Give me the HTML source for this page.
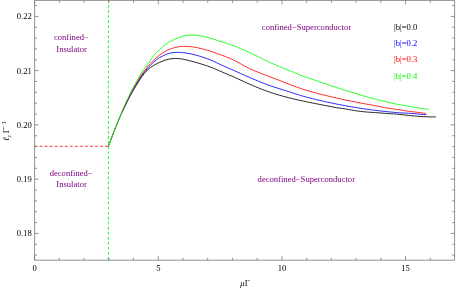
<!DOCTYPE html>
<html><head><meta charset="utf-8"><title>plot</title>
<style>html,body{margin:0;padding:0;background:#fff;}svg{display:block;will-change:transform;}</style>
</head><body>
<svg width="456" height="288" viewBox="0 0 456 288">
<rect width="456" height="288" fill="#fff"/>
<line x1="108.4" y1="0" x2="108.4" y2="260.20" stroke="#00ff00" stroke-width="0.9" stroke-dasharray="2.85 2.19"/>
<line x1="34.5" y1="146.3" x2="108.4" y2="146.3" stroke="#ff0000" stroke-width="0.8" stroke-dasharray="2.85 2.2"/>
<path d="M108.50 146.30 C108.75 145.60 109.50 143.50 110.00 142.12 C110.50 140.75 111.00 139.39 111.50 138.05 C112.00 136.71 112.50 135.38 113.00 134.08 C113.50 132.77 114.00 131.48 114.50 130.21 C115.00 128.94 115.50 127.69 116.00 126.45 C116.50 125.21 117.00 123.99 117.50 122.79 C118.00 121.58 118.50 120.40 119.00 119.23 C119.50 118.06 120.00 116.91 120.50 115.77 C121.00 114.63 121.75 112.97 122.00 112.41" fill="none" stroke="#000000" stroke-width="0.45" stroke-linejoin="round"/>
<path d="M122.00 112.41 C122.25 111.87 123.00 110.22 123.50 109.15 C124.00 108.08 124.50 107.03 125.00 105.99 C125.50 104.96 126.00 103.94 126.50 102.93 C127.00 101.93 127.50 100.94 128.00 99.97 C128.50 99.00 129.00 98.04 129.50 97.10 C130.00 96.17 130.50 95.24 131.00 94.34 C131.50 93.43 132.00 92.54 132.50 91.66 C133.00 90.78 133.50 89.92 134.00 89.07 C134.50 88.23 135.00 87.39 135.50 86.57 C136.00 85.75 136.50 84.94 137.00 84.14 C137.50 83.34 138.00 82.55 138.50 81.77 C139.00 80.99 139.50 80.21 140.00 79.46 C140.50 78.70 141.00 77.94 141.50 77.21 C142.00 76.48 142.50 75.77 143.00 75.09 C143.50 74.42 144.00 73.78 144.50 73.17 C145.00 72.56 145.50 71.97 146.00 71.44 C146.50 70.91 147.00 70.44 147.50 69.98 C148.00 69.52 148.50 69.09 149.00 68.68 C149.50 68.27 150.00 67.88 150.50 67.51 C151.00 67.15 151.50 66.80 152.00 66.48 C152.50 66.15 153.00 65.84 153.50 65.54 C154.00 65.24 154.50 64.98 155.00 64.69 C155.50 64.41 156.00 64.12 156.50 63.85 C157.00 63.58 157.50 63.32 158.00 63.07 C158.50 62.83 159.00 62.59 159.50 62.36 C160.00 62.14 160.50 61.92 161.00 61.72 C161.50 61.52 162.00 61.34 162.50 61.15 C163.00 60.96 163.50 60.75 164.00 60.58 C164.50 60.40 165.00 60.23 165.50 60.08 C166.00 59.92 166.50 59.78 167.00 59.65 C167.50 59.52 168.00 59.40 168.50 59.29 C169.00 59.18 169.50 59.07 170.00 58.98 C170.50 58.88 171.00 58.80 171.50 58.73 C172.00 58.66 172.50 58.61 173.00 58.56 C173.50 58.52 174.00 58.49 174.50 58.47 C175.00 58.45 175.50 58.45 176.00 58.45 C176.50 58.46 177.00 58.48 177.50 58.51 C178.00 58.54 178.50 58.58 179.00 58.62 C179.50 58.67 180.00 58.73 180.50 58.79 C181.00 58.85 181.50 58.91 182.00 59.00 C182.50 59.09 183.00 59.20 183.50 59.31 C184.00 59.41 184.50 59.52 185.00 59.64 C185.50 59.75 186.00 59.87 186.50 59.99 C187.00 60.11 187.50 60.23 188.00 60.35 C188.50 60.47 189.00 60.59 189.50 60.72 C190.00 60.84 190.50 60.97 191.00 61.10 C191.50 61.22 192.00 61.35 192.50 61.49 C193.00 61.62 193.50 61.75 194.00 61.89 C194.50 62.02 195.00 62.16 195.50 62.30 C196.00 62.44 196.50 62.58 197.00 62.72 C197.50 62.87 198.00 63.01 198.50 63.16 C199.00 63.31 199.50 63.46 200.00 63.61 C200.50 63.76 201.00 63.91 201.50 64.07 C202.00 64.22 202.50 64.38 203.00 64.54 C203.50 64.70 204.00 64.86 204.50 65.02 C205.00 65.19 205.50 65.35 206.00 65.52 C206.50 65.69 207.00 65.86 207.50 66.04 C208.00 66.21 208.50 66.38 209.00 66.56 C209.50 66.74 210.00 66.92 210.50 67.10 C211.00 67.28 211.50 67.46 212.00 67.65 C212.50 67.85 213.00 68.06 213.50 68.27 C214.00 68.47 214.50 68.68 215.00 68.90 C215.50 69.11 216.00 69.32 216.50 69.54 C217.00 69.75 217.50 69.97 218.00 70.19 C218.50 70.41 219.00 70.63 219.50 70.85 C220.00 71.08 220.50 71.31 221.00 71.53 C221.50 71.75 222.00 71.98 222.50 72.19 C223.00 72.40 223.50 72.60 224.00 72.80 C224.50 73.01 225.00 73.22 225.50 73.43 C226.00 73.64 226.50 73.85 227.00 74.06 C227.50 74.27 228.00 74.48 228.50 74.69 C229.00 74.91 229.50 75.12 230.00 75.33 C230.50 75.55 231.00 75.76 231.50 75.98 C232.00 76.20 232.50 76.41 233.00 76.63 C233.50 76.85 234.00 77.06 234.50 77.28 C235.00 77.51 235.50 77.73 236.00 77.96 C236.50 78.19 237.00 78.42 237.50 78.65 C238.00 78.88 238.50 79.11 239.00 79.34 C239.50 79.57 240.00 79.80 240.50 80.03 C241.00 80.26 241.50 80.49 242.00 80.72 C242.50 80.95 243.00 81.18 243.50 81.41 C244.00 81.64 244.50 81.86 245.00 82.09 C245.50 82.32 246.00 82.55 246.50 82.77 C247.00 83.00 247.50 83.22 248.00 83.44 C248.50 83.67 249.00 83.89 249.50 84.11 C250.00 84.33 250.50 84.56 251.00 84.77 C251.50 84.99 252.00 85.21 252.50 85.43 C253.00 85.65 253.50 85.86 254.00 86.07 C254.50 86.29 255.00 86.50 255.50 86.71 C256.00 86.92 256.50 87.13 257.00 87.34 C257.50 87.54 258.00 87.75 258.50 87.95 C259.00 88.16 259.50 88.36 260.00 88.56 C260.50 88.75 261.00 88.95 261.50 89.15 C262.00 89.34 262.50 89.53 263.00 89.72 C263.50 89.91 264.00 90.10 264.50 90.29 C265.00 90.47 265.50 90.65 266.00 90.84 C266.50 91.02 267.00 91.19 267.50 91.37 C268.00 91.55 268.50 91.72 269.00 91.89 C269.50 92.07 270.00 92.24 270.50 92.40 C271.00 92.57 271.50 92.74 272.00 92.90 C272.50 93.07 273.00 93.23 273.50 93.39 C274.00 93.55 274.50 93.71 275.00 93.86 C275.50 94.02 276.00 94.17 276.50 94.33 C277.00 94.48 277.50 94.63 278.00 94.78 C278.50 94.93 279.00 95.07 279.50 95.22 C280.00 95.37 280.50 95.51 281.00 95.65 C281.50 95.79 282.00 95.93 282.50 96.07 C283.00 96.21 283.50 96.35 284.00 96.49 C284.50 96.62 285.00 96.76 285.50 96.89 C286.00 97.02 286.50 97.15 287.00 97.28 C287.50 97.41 288.00 97.54 288.50 97.67 C289.00 97.80 289.50 97.92 290.00 98.05 C290.50 98.17 291.00 98.30 291.50 98.42 C292.00 98.54 292.50 98.66 293.00 98.78 C293.50 98.90 294.00 99.02 294.50 99.14 C295.00 99.26 295.50 99.37 296.00 99.49 C296.50 99.60 297.00 99.72 297.50 99.83 C298.00 99.95 298.50 100.06 299.00 100.17 C299.50 100.28 300.00 100.39 300.50 100.50 C301.00 100.61 301.50 100.72 302.00 100.83 C302.50 100.94 303.00 101.04 303.50 101.15 C304.00 101.26 304.50 101.36 305.00 101.47 C305.50 101.57 306.00 101.68 306.50 101.78 C307.00 101.89 307.50 101.99 308.00 102.09 C308.50 102.20 309.00 102.30 309.50 102.40 C310.00 102.50 310.50 102.60 311.00 102.70 C311.50 102.80 312.00 102.91 312.50 103.01 C313.00 103.11 313.50 103.20 314.00 103.30 C314.50 103.40 315.00 103.50 315.50 103.60 C316.00 103.70 316.50 103.80 317.00 103.90 C317.50 103.99 318.00 104.09 318.50 104.19 C319.00 104.29 319.50 104.39 320.00 104.48 C320.50 104.58 321.00 104.68 321.50 104.78 C322.00 104.87 322.50 104.97 323.00 105.07 C323.50 105.17 324.00 105.27 324.50 105.36 C325.00 105.46 325.50 105.56 326.00 105.66 C326.50 105.75 327.00 105.85 327.50 105.95 C328.00 106.05 328.50 106.15 329.00 106.24 C329.50 106.34 330.00 106.44 330.50 106.54 C331.00 106.63 331.50 106.73 332.00 106.83 C332.50 106.93 333.00 107.02 333.50 107.12 C334.00 107.21 334.50 107.31 335.00 107.41 C335.50 107.50 336.00 107.61 336.50 107.69 C337.00 107.77 337.50 107.84 338.00 107.91 C338.50 107.98 339.00 108.04 339.50 108.10 C340.00 108.17 340.50 108.23 341.00 108.29 C341.50 108.35 342.00 108.41 342.50 108.47 C343.00 108.53 343.50 108.57 344.00 108.65 C344.50 108.73 345.00 108.84 345.50 108.94 C346.00 109.04 346.50 109.13 347.00 109.23 C347.50 109.32 348.00 109.41 348.50 109.50 C349.00 109.60 349.50 109.69 350.00 109.77 C350.50 109.86 351.00 109.95 351.50 110.04 C352.00 110.12 352.50 110.21 353.00 110.29 C353.50 110.37 354.00 110.45 354.50 110.53 C355.00 110.61 355.50 110.69 356.00 110.76 C356.50 110.84 357.00 110.91 357.50 110.99 C358.00 111.06 358.50 111.13 359.00 111.20 C359.50 111.26 360.00 111.33 360.50 111.39 C361.00 111.45 361.50 111.50 362.00 111.56 C362.50 111.61 363.00 111.66 363.50 111.71 C364.00 111.76 364.50 111.81 365.00 111.85 C365.50 111.90 366.00 111.94 366.50 111.98 C367.00 112.02 367.50 112.06 368.00 112.10 C368.50 112.14 369.00 112.18 369.50 112.22 C370.00 112.26 370.50 112.29 371.00 112.33 C371.50 112.36 372.00 112.40 372.50 112.43 C373.00 112.47 373.50 112.50 374.00 112.53 C374.50 112.57 375.00 112.60 375.50 112.63 C376.00 112.67 376.50 112.70 377.00 112.73 C377.50 112.77 378.00 112.80 378.50 112.84 C379.00 112.87 379.50 112.91 380.00 112.94 C380.50 112.98 381.00 113.01 381.50 113.05 C382.00 113.09 382.50 113.13 383.00 113.17 C383.50 113.21 384.00 113.25 384.50 113.29 C385.00 113.34 385.50 113.39 386.00 113.43 C386.50 113.46 387.00 113.48 387.50 113.51 C388.00 113.53 388.50 113.56 389.00 113.59 C389.50 113.62 390.00 113.65 390.50 113.68 C391.00 113.72 391.50 113.75 392.00 113.78 C392.50 113.82 393.00 113.85 393.50 113.89 C394.00 113.92 394.50 113.95 395.00 113.99 C395.50 114.03 396.00 114.07 396.50 114.12 C397.00 114.17 397.50 114.23 398.00 114.28 C398.50 114.33 399.00 114.39 399.50 114.44 C400.00 114.49 400.50 114.55 401.00 114.60 C401.50 114.65 402.00 114.71 402.50 114.76 C403.00 114.82 403.50 114.87 404.00 114.92 C404.50 114.98 405.00 115.03 405.50 115.09 C406.00 115.14 406.50 115.19 407.00 115.24 C407.50 115.30 408.00 115.35 408.50 115.40 C409.00 115.45 409.50 115.50 410.00 115.55 C410.50 115.60 411.00 115.65 411.50 115.70 C412.00 115.75 412.50 115.80 413.00 115.85 C413.50 115.89 414.00 115.94 414.50 115.98 C415.00 116.03 415.50 116.07 416.00 116.12 C416.50 116.16 417.00 116.20 417.50 116.24 C418.00 116.28 418.50 116.32 419.00 116.36 C419.50 116.40 420.00 116.43 420.50 116.47 C421.00 116.50 421.50 116.53 422.00 116.56 C422.50 116.60 423.00 116.63 423.50 116.65 C424.00 116.68 424.50 116.71 425.00 116.73 C425.50 116.76 426.00 116.78 426.50 116.80 C427.00 116.82 427.50 116.84 428.00 116.85 C428.50 116.87 429.00 116.88 429.50 116.89 C430.00 116.90 430.50 116.91 431.00 116.92 C431.50 116.92 432.00 116.93 432.50 116.93 C433.00 116.93 433.50 116.93 434.00 116.93 C434.50 116.92 435.18 116.91 435.50 116.91 C435.82 116.90 435.83 116.90 435.90 116.90" fill="none" stroke="#000000" stroke-width="0.85" stroke-linejoin="round"/>
<path d="M108.50 146.30 C108.75 145.61 109.50 143.53 110.00 142.17 C110.50 140.80 111.00 139.45 111.50 138.12 C112.00 136.79 112.50 135.47 113.00 134.16 C113.50 132.86 114.00 131.57 114.50 130.29 C115.00 129.02 115.50 127.76 116.00 126.51 C116.50 125.27 117.00 124.04 117.50 122.82 C118.00 121.61 118.50 120.41 119.00 119.22 C119.50 118.03 120.00 116.86 120.50 115.71 C121.00 114.55 121.75 112.85 122.00 112.28" fill="none" stroke="#0000ff" stroke-width="0.45" stroke-linejoin="round"/>
<path d="M122.00 112.28 C122.25 111.73 123.00 110.05 123.50 108.95 C124.00 107.85 124.50 106.77 125.00 105.71 C125.50 104.64 126.00 103.59 126.50 102.55 C127.00 101.52 127.50 100.49 128.00 99.49 C128.50 98.48 129.00 97.49 129.50 96.52 C130.00 95.54 130.50 94.58 131.00 93.63 C131.50 92.69 132.00 91.76 132.50 90.84 C133.00 89.93 133.50 89.03 134.00 88.14 C134.50 87.26 135.00 86.39 135.50 85.53 C136.00 84.68 136.50 83.84 137.00 83.02 C137.50 82.20 138.00 81.39 138.50 80.61 C139.00 79.82 139.50 79.04 140.00 78.28 C140.50 77.53 141.00 76.79 141.50 76.06 C142.00 75.34 142.50 74.63 143.00 73.94 C143.50 73.25 144.00 72.58 144.50 71.94 C145.00 71.30 145.50 70.69 146.00 70.09 C146.50 69.49 147.00 68.91 147.50 68.35 C148.00 67.78 148.50 67.23 149.00 66.70 C149.50 66.17 150.00 65.66 150.50 65.17 C151.00 64.67 151.50 64.21 152.00 63.73 C152.50 63.26 153.00 62.76 153.50 62.30 C154.00 61.84 154.50 61.39 155.00 60.97 C155.50 60.54 156.00 60.14 156.50 59.76 C157.00 59.38 157.50 59.02 158.00 58.68 C158.50 58.34 159.00 58.02 159.50 57.71 C160.00 57.40 160.50 57.11 161.00 56.84 C161.50 56.56 162.00 56.32 162.50 56.06 C163.00 55.80 163.50 55.53 164.00 55.29 C164.50 55.05 165.00 54.82 165.50 54.61 C166.00 54.40 166.50 54.19 167.00 54.01 C167.50 53.83 168.00 53.66 168.50 53.52 C169.00 53.38 169.50 53.27 170.00 53.16 C170.50 53.05 171.00 52.96 171.50 52.87 C172.00 52.79 172.50 52.71 173.00 52.65 C173.50 52.59 174.00 52.54 174.50 52.50 C175.00 52.45 175.50 52.42 176.00 52.40 C176.50 52.38 177.00 52.37 177.50 52.36 C178.00 52.36 178.50 52.36 179.00 52.38 C179.50 52.39 180.00 52.41 180.50 52.44 C181.00 52.47 181.50 52.50 182.00 52.55 C182.50 52.59 183.00 52.64 183.50 52.69 C184.00 52.75 184.50 52.81 185.00 52.88 C185.50 52.95 186.00 53.02 186.50 53.10 C187.00 53.18 187.50 53.26 188.00 53.35 C188.50 53.43 189.00 53.53 189.50 53.62 C190.00 53.72 190.50 53.82 191.00 53.93 C191.50 54.03 192.00 54.15 192.50 54.26 C193.00 54.38 193.50 54.49 194.00 54.62 C194.50 54.74 195.00 54.87 195.50 55.00 C196.00 55.13 196.50 55.27 197.00 55.41 C197.50 55.54 198.00 55.69 198.50 55.83 C199.00 55.98 199.50 56.13 200.00 56.28 C200.50 56.44 201.00 56.60 201.50 56.76 C202.00 56.92 202.50 57.08 203.00 57.25 C203.50 57.41 204.00 57.58 204.50 57.76 C205.00 57.93 205.50 58.10 206.00 58.28 C206.50 58.46 207.00 58.64 207.50 58.83 C208.00 59.01 208.50 59.20 209.00 59.39 C209.50 59.57 210.00 59.77 210.50 59.96 C211.00 60.15 211.50 60.33 212.00 60.55 C212.50 60.76 213.00 61.01 213.50 61.24 C214.00 61.47 214.50 61.70 215.00 61.94 C215.50 62.18 216.00 62.41 216.50 62.65 C217.00 62.89 217.50 63.13 218.00 63.38 C218.50 63.62 219.00 63.87 219.50 64.11 C220.00 64.36 220.50 64.61 221.00 64.85 C221.50 65.10 222.00 65.34 222.50 65.56 C223.00 65.79 223.50 65.98 224.00 66.20 C224.50 66.41 225.00 66.62 225.50 66.84 C226.00 67.05 226.50 67.26 227.00 67.48 C227.50 67.70 228.00 67.91 228.50 68.13 C229.00 68.35 229.50 68.57 230.00 68.79 C230.50 69.00 231.00 69.22 231.50 69.44 C232.00 69.66 232.50 69.88 233.00 70.10 C233.50 70.33 234.00 70.55 234.50 70.77 C235.00 70.99 235.50 71.21 236.00 71.43 C236.50 71.66 237.00 71.88 237.50 72.10 C238.00 72.33 238.50 72.55 239.00 72.77 C239.50 72.99 240.00 73.22 240.50 73.44 C241.00 73.66 241.50 73.88 242.00 74.10 C242.50 74.33 243.00 74.55 243.50 74.77 C244.00 74.99 244.50 75.21 245.00 75.43 C245.50 75.64 246.00 75.86 246.50 76.08 C247.00 76.30 247.50 76.51 248.00 76.73 C248.50 76.94 249.00 77.16 249.50 77.37 C250.00 77.59 250.50 77.81 251.00 78.03 C251.50 78.25 252.00 78.47 252.50 78.69 C253.00 78.91 253.50 79.13 254.00 79.34 C254.50 79.56 255.00 79.77 255.50 79.98 C256.00 80.20 256.50 80.41 257.00 80.62 C257.50 80.83 258.00 81.03 258.50 81.24 C259.00 81.45 259.50 81.65 260.00 81.85 C260.50 82.05 261.00 82.25 261.50 82.45 C262.00 82.65 262.50 82.84 263.00 83.04 C263.50 83.23 264.00 83.42 264.50 83.61 C265.00 83.80 265.50 83.99 266.00 84.17 C266.50 84.36 267.00 84.54 267.50 84.72 C268.00 84.90 268.50 85.08 269.00 85.26 C269.50 85.43 270.00 85.61 270.50 85.78 C271.00 85.96 271.50 86.13 272.00 86.30 C272.50 86.47 273.00 86.64 273.50 86.80 C274.00 86.97 274.50 87.14 275.00 87.30 C275.50 87.46 276.00 87.63 276.50 87.79 C277.00 87.95 277.50 88.11 278.00 88.27 C278.50 88.42 279.00 88.58 279.50 88.74 C280.00 88.89 280.50 89.05 281.00 89.20 C281.50 89.35 282.00 89.51 282.50 89.66 C283.00 89.81 283.50 89.96 284.00 90.11 C284.50 90.26 285.00 90.41 285.50 90.57 C286.00 90.74 286.50 90.91 287.00 91.08 C287.50 91.24 288.00 91.41 288.50 91.57 C289.00 91.74 289.50 91.90 290.00 92.06 C290.50 92.23 291.00 92.39 291.50 92.55 C292.00 92.72 292.50 92.88 293.00 93.04 C293.50 93.20 294.00 93.36 294.50 93.52 C295.00 93.68 295.50 93.84 296.00 94.00 C296.50 94.16 297.00 94.32 297.50 94.48 C298.00 94.64 298.50 94.80 299.00 94.96 C299.50 95.12 300.00 95.28 300.50 95.44 C301.00 95.60 301.50 95.77 302.00 95.92 C302.50 96.06 303.00 96.18 303.50 96.31 C304.00 96.45 304.50 96.58 305.00 96.71 C305.50 96.84 306.00 96.97 306.50 97.10 C307.00 97.24 307.50 97.37 308.00 97.50 C308.50 97.63 309.00 97.76 309.50 97.89 C310.00 98.02 310.50 98.15 311.00 98.28 C311.50 98.41 312.00 98.53 312.50 98.66 C313.00 98.79 313.50 98.92 314.00 99.04 C314.50 99.17 315.00 99.29 315.50 99.41 C316.00 99.53 316.50 99.65 317.00 99.77 C317.50 99.89 318.00 100.01 318.50 100.13 C319.00 100.24 319.50 100.36 320.00 100.48 C320.50 100.59 321.00 100.71 321.50 100.82 C322.00 100.94 322.50 101.05 323.00 101.17 C323.50 101.28 324.00 101.39 324.50 101.50 C325.00 101.61 325.50 101.72 326.00 101.83 C326.50 101.94 327.00 102.05 327.50 102.16 C328.00 102.26 328.50 102.37 329.00 102.47 C329.50 102.58 330.00 102.68 330.50 102.79 C331.00 102.89 331.50 103.00 332.00 103.10 C332.50 103.21 333.00 103.31 333.50 103.42 C334.00 103.52 334.50 103.62 335.00 103.72 C335.50 103.82 336.00 103.92 336.50 104.02 C337.00 104.12 337.50 104.22 338.00 104.31 C338.50 104.41 339.00 104.51 339.50 104.60 C340.00 104.70 340.50 104.79 341.00 104.88 C341.50 104.98 342.00 105.07 342.50 105.16 C343.00 105.25 343.50 105.34 344.00 105.43 C344.50 105.52 345.00 105.62 345.50 105.72 C346.00 105.81 346.50 105.90 347.00 106.00 C347.50 106.09 348.00 106.18 348.50 106.27 C349.00 106.36 349.50 106.45 350.00 106.54 C350.50 106.63 351.00 106.72 351.50 106.81 C352.00 106.90 352.50 106.98 353.00 107.07 C353.50 107.15 354.00 107.24 354.50 107.32 C355.00 107.41 355.50 107.49 356.00 107.57 C356.50 107.65 357.00 107.74 357.50 107.82 C358.00 107.90 358.50 107.98 359.00 108.06 C359.50 108.14 360.00 108.21 360.50 108.29 C361.00 108.37 361.50 108.44 362.00 108.52 C362.50 108.60 363.00 108.67 363.50 108.74 C364.00 108.82 364.50 108.89 365.00 108.96 C365.50 109.04 366.00 109.11 366.50 109.18 C367.00 109.25 367.50 109.32 368.00 109.39 C368.50 109.46 369.00 109.53 369.50 109.60 C370.00 109.66 370.50 109.73 371.00 109.80 C371.50 109.86 372.00 109.93 372.50 109.99 C373.00 110.06 373.50 110.12 374.00 110.19 C374.50 110.25 375.00 110.31 375.50 110.37 C376.00 110.43 376.50 110.50 377.00 110.56 C377.50 110.62 378.00 110.68 378.50 110.73 C379.00 110.79 379.50 110.85 380.00 110.91 C380.50 110.97 381.00 111.02 381.50 111.08 C382.00 111.14 382.50 111.19 383.00 111.25 C383.50 111.30 384.00 111.35 384.50 111.41 C385.00 111.46 385.50 111.51 386.00 111.57 C386.50 111.62 387.00 111.67 387.50 111.72 C388.00 111.77 388.50 111.82 389.00 111.87 C389.50 111.92 390.00 111.97 390.50 112.02 C391.00 112.06 391.50 112.11 392.00 112.16 C392.50 112.21 393.00 112.25 393.50 112.30 C394.00 112.34 394.50 112.39 395.00 112.43 C395.50 112.48 396.00 112.52 396.50 112.56 C397.00 112.61 397.50 112.65 398.00 112.69 C398.50 112.73 399.00 112.78 399.50 112.81 C400.00 112.85 400.50 112.88 401.00 112.91 C401.50 112.93 402.00 112.95 402.50 112.98 C403.00 113.00 403.50 113.02 404.00 113.05 C404.50 113.07 405.00 113.09 405.50 113.11 C406.00 113.13 406.50 113.15 407.00 113.17 C407.50 113.19 408.00 113.21 408.50 113.23 C409.00 113.25 409.50 113.25 410.00 113.29 C410.50 113.32 411.00 113.38 411.50 113.43 C412.00 113.48 412.50 113.52 413.00 113.57 C413.50 113.61 414.00 113.66 414.50 113.70 C415.00 113.75 415.50 113.79 416.00 113.84 C416.50 113.88 417.00 113.93 417.50 113.97 C418.00 114.01 418.50 114.05 419.00 114.10 C419.50 114.14 420.00 114.18 420.50 114.23 C421.00 114.27 421.50 114.33 422.00 114.37 C422.50 114.42 423.00 114.47 423.50 114.52 C424.00 114.56 424.50 114.61 425.00 114.66 C425.50 114.70 426.25 114.77 426.50 114.80" fill="none" stroke="#0000ff" stroke-width="0.85" stroke-linejoin="round"/>
<path d="M108.50 146.30 C108.75 145.61 109.50 143.53 110.00 142.16 C110.50 140.79 111.00 139.44 111.50 138.10 C112.00 136.76 112.50 135.43 113.00 134.12 C113.50 132.81 114.00 131.51 114.50 130.23 C115.00 128.94 115.50 127.67 116.00 126.42 C116.50 125.16 117.00 123.92 117.50 122.69 C118.00 121.46 118.50 120.24 119.00 119.04 C119.50 117.84 120.00 116.66 120.50 115.49 C121.00 114.31 121.75 112.59 122.00 112.01" fill="none" stroke="#ff0000" stroke-width="0.45" stroke-linejoin="round"/>
<path d="M122.00 112.01 C122.25 111.45 123.00 109.74 123.50 108.62 C124.00 107.51 124.50 106.41 125.00 105.32 C125.50 104.24 126.00 103.17 126.50 102.11 C127.00 101.05 127.50 100.01 128.00 98.98 C128.50 97.96 129.00 96.94 129.50 95.94 C130.00 94.95 130.50 93.96 131.00 93.00 C131.50 92.03 132.00 91.07 132.50 90.14 C133.00 89.20 133.50 88.27 134.00 87.37 C134.50 86.46 135.00 85.56 135.50 84.69 C136.00 83.81 136.50 82.94 137.00 82.10 C137.50 81.25 138.00 80.42 138.50 79.60 C139.00 78.78 139.50 77.97 140.00 77.19 C140.50 76.42 141.00 75.69 141.50 74.96 C142.00 74.23 142.50 73.51 143.00 72.81 C143.50 72.11 144.00 71.43 144.50 70.76 C145.00 70.10 145.50 69.44 146.00 68.81 C146.50 68.17 147.00 67.55 147.50 66.95 C148.00 66.34 148.50 65.76 149.00 65.18 C149.50 64.61 150.00 64.05 150.50 63.50 C151.00 62.94 151.50 62.40 152.00 61.87 C152.50 61.35 153.00 60.84 153.50 60.35 C154.00 59.86 154.50 59.38 155.00 58.92 C155.50 58.46 156.00 58.01 156.50 57.58 C157.00 57.15 157.50 56.73 158.00 56.32 C158.50 55.92 159.00 55.53 159.50 55.16 C160.00 54.79 160.50 54.43 161.00 54.09 C161.50 53.74 162.00 53.40 162.50 53.10 C163.00 52.80 163.50 52.59 164.00 52.30 C164.50 52.01 165.00 51.66 165.50 51.36 C166.00 51.06 166.50 50.77 167.00 50.49 C167.50 50.22 168.00 49.94 168.50 49.70 C169.00 49.47 169.50 49.28 170.00 49.09 C170.50 48.89 171.00 48.72 171.50 48.56 C172.00 48.39 172.50 48.24 173.00 48.10 C173.50 47.95 174.00 47.83 174.50 47.70 C175.00 47.57 175.50 47.45 176.00 47.34 C176.50 47.23 177.00 47.12 177.50 47.02 C178.00 46.93 178.50 46.84 179.00 46.76 C179.50 46.69 180.00 46.62 180.50 46.56 C181.00 46.50 181.50 46.44 182.00 46.40 C182.50 46.37 183.00 46.36 183.50 46.35 C184.00 46.34 184.50 46.34 185.00 46.34 C185.50 46.35 186.00 46.36 186.50 46.38 C187.00 46.40 187.50 46.42 188.00 46.45 C188.50 46.48 189.00 46.52 189.50 46.57 C190.00 46.61 190.50 46.66 191.00 46.72 C191.50 46.77 192.00 46.83 192.50 46.90 C193.00 46.97 193.50 47.04 194.00 47.12 C194.50 47.20 195.00 47.28 195.50 47.37 C196.00 47.46 196.50 47.55 197.00 47.65 C197.50 47.75 198.00 47.85 198.50 47.96 C199.00 48.06 199.50 48.18 200.00 48.29 C200.50 48.41 201.00 48.53 201.50 48.65 C202.00 48.78 202.50 48.90 203.00 49.04 C203.50 49.17 204.00 49.30 204.50 49.44 C205.00 49.58 205.50 49.72 206.00 49.87 C206.50 50.01 207.00 50.16 207.50 50.31 C208.00 50.47 208.50 50.62 209.00 50.78 C209.50 50.93 210.00 51.09 210.50 51.26 C211.00 51.42 211.50 51.58 212.00 51.75 C212.50 51.91 213.00 52.08 213.50 52.25 C214.00 52.42 214.50 52.59 215.00 52.77 C215.50 52.94 216.00 53.12 216.50 53.29 C217.00 53.47 217.50 53.64 218.00 53.82 C218.50 54.00 219.00 54.18 219.50 54.36 C220.00 54.54 220.50 54.72 221.00 54.91 C221.50 55.09 222.00 55.28 222.50 55.47 C223.00 55.65 223.50 55.84 224.00 56.03 C224.50 56.23 225.00 56.42 225.50 56.62 C226.00 56.81 226.50 57.01 227.00 57.21 C227.50 57.41 228.00 57.62 228.50 57.83 C229.00 58.03 229.50 58.24 230.00 58.46 C230.50 58.67 231.00 58.89 231.50 59.11 C232.00 59.33 232.50 59.55 233.00 59.78 C233.50 60.01 234.00 60.23 234.50 60.47 C235.00 60.71 235.50 60.96 236.00 61.22 C236.50 61.48 237.00 61.75 237.50 62.02 C238.00 62.28 238.50 62.56 239.00 62.83 C239.50 63.11 240.00 63.39 240.50 63.67 C241.00 63.95 241.50 64.23 242.00 64.52 C242.50 64.80 243.00 65.08 243.50 65.37 C244.00 65.65 244.50 65.94 245.00 66.22 C245.50 66.50 246.00 66.79 246.50 67.06 C247.00 67.33 247.50 67.59 248.00 67.83 C248.50 68.08 249.00 68.32 249.50 68.55 C250.00 68.79 250.50 69.02 251.00 69.24 C251.50 69.47 252.00 69.69 252.50 69.91 C253.00 70.13 253.50 70.34 254.00 70.55 C254.50 70.76 255.00 70.97 255.50 71.17 C256.00 71.38 256.50 71.58 257.00 71.77 C257.50 71.97 258.00 72.17 258.50 72.37 C259.00 72.57 259.50 72.77 260.00 72.96 C260.50 73.16 261.00 73.35 261.50 73.55 C262.00 73.74 262.50 73.94 263.00 74.13 C263.50 74.32 264.00 74.51 264.50 74.70 C265.00 74.90 265.50 75.09 266.00 75.29 C266.50 75.48 267.00 75.68 267.50 75.88 C268.00 76.07 268.50 76.26 269.00 76.46 C269.50 76.65 270.00 76.85 270.50 77.04 C271.00 77.23 271.50 77.42 272.00 77.61 C272.50 77.80 273.00 77.99 273.50 78.18 C274.00 78.37 274.50 78.56 275.00 78.75 C275.50 78.94 276.00 79.12 276.50 79.31 C277.00 79.50 277.50 79.68 278.00 79.87 C278.50 80.05 279.00 80.23 279.50 80.42 C280.00 80.61 280.50 80.81 281.00 81.01 C281.50 81.20 282.00 81.41 282.50 81.61 C283.00 81.81 283.50 82.01 284.00 82.21 C284.50 82.41 285.00 82.60 285.50 82.80 C286.00 83.00 286.50 83.19 287.00 83.39 C287.50 83.59 288.00 83.78 288.50 83.98 C289.00 84.17 289.50 84.36 290.00 84.56 C290.50 84.75 291.00 84.93 291.50 85.12 C292.00 85.31 292.50 85.49 293.00 85.68 C293.50 85.87 294.00 86.05 294.50 86.24 C295.00 86.42 295.50 86.60 296.00 86.79 C296.50 86.97 297.00 87.15 297.50 87.33 C298.00 87.51 298.50 87.70 299.00 87.87 C299.50 88.05 300.00 88.23 300.50 88.41 C301.00 88.59 301.50 88.78 302.00 88.94 C302.50 89.11 303.00 89.24 303.50 89.39 C304.00 89.54 304.50 89.69 305.00 89.84 C305.50 89.99 306.00 90.14 306.50 90.28 C307.00 90.43 307.50 90.57 308.00 90.72 C308.50 90.86 309.00 91.01 309.50 91.15 C310.00 91.29 310.50 91.44 311.00 91.58 C311.50 91.72 312.00 91.86 312.50 92.00 C313.00 92.14 313.50 92.28 314.00 92.42 C314.50 92.55 315.00 92.69 315.50 92.83 C316.00 92.96 316.50 93.10 317.00 93.23 C317.50 93.37 318.00 93.50 318.50 93.63 C319.00 93.77 319.50 93.90 320.00 94.03 C320.50 94.16 321.00 94.29 321.50 94.42 C322.00 94.55 322.50 94.68 323.00 94.80 C323.50 94.93 324.00 95.06 324.50 95.18 C325.00 95.31 325.50 95.43 326.00 95.55 C326.50 95.68 327.00 95.80 327.50 95.92 C328.00 96.04 328.50 96.17 329.00 96.29 C329.50 96.41 330.00 96.53 330.50 96.64 C331.00 96.76 331.50 96.88 332.00 97.00 C332.50 97.11 333.00 97.23 333.50 97.34 C334.00 97.46 334.50 97.57 335.00 97.69 C335.50 97.80 336.00 97.91 336.50 98.02 C337.00 98.14 337.50 98.25 338.00 98.36 C338.50 98.47 339.00 98.58 339.50 98.68 C340.00 98.79 340.50 98.90 341.00 99.01 C341.50 99.12 342.00 99.23 342.50 99.33 C343.00 99.44 343.50 99.54 344.00 99.65 C344.50 99.75 345.00 99.86 345.50 99.96 C346.00 100.07 346.50 100.17 347.00 100.27 C347.50 100.37 348.00 100.47 348.50 100.57 C349.00 100.67 349.50 100.77 350.00 100.87 C350.50 100.97 351.00 101.08 351.50 101.19 C352.00 101.29 352.50 101.40 353.00 101.50 C353.50 101.60 354.00 101.71 354.50 101.81 C355.00 101.91 355.50 102.01 356.00 102.11 C356.50 102.21 357.00 102.31 357.50 102.41 C358.00 102.51 358.50 102.61 359.00 102.71 C359.50 102.81 360.00 102.90 360.50 103.00 C361.00 103.10 361.50 103.19 362.00 103.29 C362.50 103.38 363.00 103.48 363.50 103.57 C364.00 103.66 364.50 103.76 365.00 103.85 C365.50 103.94 366.00 104.03 366.50 104.12 C367.00 104.21 367.50 104.30 368.00 104.39 C368.50 104.48 369.00 104.57 369.50 104.66 C370.00 104.75 370.50 104.84 371.00 104.92 C371.50 105.01 372.00 105.10 372.50 105.18 C373.00 105.27 373.50 105.35 374.00 105.44 C374.50 105.53 375.00 105.62 375.50 105.71 C376.00 105.81 376.50 105.92 377.00 106.02 C377.50 106.13 378.00 106.23 378.50 106.33 C379.00 106.43 379.50 106.53 380.00 106.63 C380.50 106.73 381.00 106.83 381.50 106.93 C382.00 107.03 382.50 107.13 383.00 107.23 C383.50 107.33 384.00 107.42 384.50 107.52 C385.00 107.62 385.50 107.72 386.00 107.81 C386.50 107.90 387.00 107.96 387.50 108.04 C388.00 108.12 388.50 108.19 389.00 108.27 C389.50 108.34 390.00 108.42 390.50 108.49 C391.00 108.57 391.50 108.64 392.00 108.72 C392.50 108.79 393.00 108.87 393.50 108.94 C394.00 109.02 394.50 109.09 395.00 109.16 C395.50 109.24 396.00 109.31 396.50 109.38 C397.00 109.46 397.50 109.53 398.00 109.60 C398.50 109.68 399.00 109.75 399.50 109.82 C400.00 109.90 400.50 109.97 401.00 110.05 C401.50 110.12 402.00 110.20 402.50 110.28 C403.00 110.35 403.50 110.43 404.00 110.51 C404.50 110.58 405.00 110.66 405.50 110.74 C406.00 110.82 406.50 110.89 407.00 110.97 C407.50 111.05 408.00 111.13 408.50 111.21 C409.00 111.28 409.50 111.37 410.00 111.44 C410.50 111.51 411.00 111.56 411.50 111.62 C412.00 111.68 412.50 111.74 413.00 111.80 C413.50 111.86 414.00 111.93 414.50 111.99 C415.00 112.05 415.50 112.11 416.00 112.18 C416.50 112.24 417.00 112.30 417.50 112.37 C418.00 112.43 418.50 112.50 419.00 112.56 C419.50 112.63 420.00 112.70 420.50 112.76 C421.00 112.83 421.50 112.90 422.00 112.96 C422.50 113.03 423.00 113.10 423.50 113.17 C424.00 113.24 424.60 113.32 425.00 113.38 C425.40 113.44 425.75 113.49 425.90 113.51" fill="none" stroke="#ff0000" stroke-width="0.85" stroke-linejoin="round"/>
<path d="M108.50 146.30 C108.75 145.61 109.50 143.53 110.00 142.16 C110.50 140.79 111.00 139.43 111.50 138.08 C112.00 136.74 112.50 135.40 113.00 134.08 C113.50 132.76 114.00 131.45 114.50 130.15 C115.00 128.85 115.50 127.56 116.00 126.29 C116.50 125.02 117.00 123.75 117.50 122.51 C118.00 121.26 118.50 120.02 119.00 118.80 C119.50 117.57 120.00 116.36 120.50 115.16 C121.00 113.96 121.50 112.78 122.00 111.61 C122.50 110.43 123.00 109.27 123.50 108.13 C124.00 106.98 124.50 105.85 125.00 104.73 C125.50 103.61 126.00 102.50 126.50 101.41 C127.00 100.32 127.50 99.24 128.00 98.18 C128.50 97.11 129.00 96.06 129.50 95.02 C130.00 93.98 130.50 92.96 131.00 91.95 C131.50 90.94 132.00 89.95 132.50 88.97 C133.00 87.99 133.50 87.02 134.00 86.06 C134.50 85.11 135.00 84.17 135.50 83.24 C136.00 82.32 136.50 81.41 137.00 80.51 C137.50 79.61 138.00 78.72 138.50 77.85 C139.00 76.98 139.50 76.09 140.00 75.27 C140.50 74.45 141.00 73.68 141.50 72.91 C142.00 72.13 142.50 71.37 143.00 70.62 C143.50 69.87 144.00 69.14 144.50 68.41 C145.00 67.69 145.50 66.98 146.00 66.28 C146.50 65.58 147.00 64.90 147.50 64.23 C148.00 63.55 148.50 62.91 149.00 62.25 C149.50 61.58 150.00 60.93 150.50 60.25 C151.00 59.57 151.50 58.85 152.00 58.16 C152.50 57.47 153.00 56.80 153.50 56.14 C154.00 55.48 154.50 54.81 155.00 54.19 C155.50 53.58 156.00 52.97 156.50 52.46 C157.00 51.94 157.50 51.52 158.00 51.08 C158.50 50.64 159.00 50.24 159.50 49.79 C160.00 49.35 160.50 48.86 161.00 48.40 C161.50 47.94 162.00 47.46 162.50 47.02 C163.00 46.58 163.50 46.18 164.00 45.75 C164.50 45.32 165.00 44.87 165.50 44.46 C166.00 44.05 166.50 43.65 167.00 43.31 C167.50 42.96 168.00 42.68 168.50 42.40 C169.00 42.12 169.50 41.88 170.00 41.61 C170.50 41.35 171.00 41.07 171.50 40.82 C172.00 40.56 172.50 40.31 173.00 40.07 C173.50 39.83 174.00 39.59 174.50 39.37 C175.00 39.15 175.50 38.95 176.00 38.74 C176.50 38.53 177.00 38.31 177.50 38.11 C178.00 37.90 178.50 37.70 179.00 37.50 C179.50 37.31 180.00 37.12 180.50 36.95 C181.00 36.78 181.50 36.64 182.00 36.49 C182.50 36.35 183.00 36.21 183.50 36.08 C184.00 35.96 184.50 35.84 185.00 35.73 C185.50 35.63 186.00 35.54 186.50 35.45 C187.00 35.37 187.50 35.30 188.00 35.24 C188.50 35.18 189.00 35.13 189.50 35.10 C190.00 35.07 190.50 35.04 191.00 35.03 C191.50 35.02 192.00 35.02 192.50 35.03 C193.00 35.04 193.50 35.07 194.00 35.10 C194.50 35.12 195.00 35.15 195.50 35.19 C196.00 35.24 196.50 35.29 197.00 35.35 C197.50 35.41 198.00 35.47 198.50 35.55 C199.00 35.62 199.50 35.72 200.00 35.80 C200.50 35.88 201.00 35.94 201.50 36.02 C202.00 36.11 202.50 36.20 203.00 36.29 C203.50 36.38 204.00 36.48 204.50 36.59 C205.00 36.69 205.50 36.79 206.00 36.91 C206.50 37.04 207.00 37.19 207.50 37.33 C208.00 37.48 208.50 37.63 209.00 37.78 C209.50 37.93 210.00 38.08 210.50 38.24 C211.00 38.39 211.50 38.55 212.00 38.71 C212.50 38.87 213.00 39.03 213.50 39.19 C214.00 39.35 214.50 39.51 215.00 39.67 C215.50 39.83 216.00 39.99 216.50 40.15 C217.00 40.31 217.50 40.46 218.00 40.62 C218.50 40.78 219.00 40.93 219.50 41.09 C220.00 41.24 220.50 41.39 221.00 41.55 C221.50 41.70 222.00 41.85 222.50 42.00 C223.00 42.16 223.50 42.31 224.00 42.46 C224.50 42.62 225.00 42.77 225.50 42.92 C226.00 43.08 226.50 43.23 227.00 43.39 C227.50 43.55 228.00 43.71 228.50 43.88 C229.00 44.05 229.50 44.23 230.00 44.41 C230.50 44.59 231.00 44.77 231.50 44.96 C232.00 45.14 232.50 45.33 233.00 45.52 C233.50 45.71 234.00 45.90 234.50 46.10 C235.00 46.30 235.50 46.50 236.00 46.70 C236.50 46.91 237.00 47.11 237.50 47.33 C238.00 47.54 238.50 47.76 239.00 47.98 C239.50 48.20 240.00 48.43 240.50 48.65 C241.00 48.87 241.50 49.08 242.00 49.29 C242.50 49.50 243.00 49.70 243.50 49.91 C244.00 50.12 244.50 50.34 245.00 50.55 C245.50 50.77 246.00 50.99 246.50 51.21 C247.00 51.43 247.50 51.66 248.00 51.88 C248.50 52.11 249.00 52.33 249.50 52.56 C250.00 52.79 250.50 53.02 251.00 53.25 C251.50 53.48 252.00 53.72 252.50 53.95 C253.00 54.18 253.50 54.42 254.00 54.65 C254.50 54.89 255.00 55.13 255.50 55.37 C256.00 55.62 256.50 55.87 257.00 56.12 C257.50 56.37 258.00 56.62 258.50 56.87 C259.00 57.12 259.50 57.36 260.00 57.61 C260.50 57.86 261.00 58.11 261.50 58.35 C262.00 58.60 262.50 58.84 263.00 59.08 C263.50 59.32 264.00 59.57 264.50 59.80 C265.00 60.04 265.50 60.28 266.00 60.52 C266.50 60.76 267.00 60.99 267.50 61.23 C268.00 61.46 268.50 61.69 269.00 61.92 C269.50 62.15 270.00 62.38 270.50 62.61 C271.00 62.84 271.50 63.07 272.00 63.30 C272.50 63.52 273.00 63.75 273.50 63.97 C274.00 64.19 274.50 64.42 275.00 64.64 C275.50 64.86 276.00 65.08 276.50 65.30 C277.00 65.52 277.50 65.73 278.00 65.95 C278.50 66.17 279.00 66.38 279.50 66.60 C280.00 66.81 280.50 67.02 281.00 67.23 C281.50 67.45 282.00 67.66 282.50 67.87 C283.00 68.08 283.50 68.28 284.00 68.49 C284.50 68.70 285.00 68.91 285.50 69.11 C286.00 69.32 286.50 69.52 287.00 69.72 C287.50 69.93 288.00 70.13 288.50 70.33 C289.00 70.53 289.50 70.73 290.00 70.93 C290.50 71.13 291.00 71.33 291.50 71.53 C292.00 71.73 292.50 71.92 293.00 72.12 C293.50 72.31 294.00 72.50 294.50 72.70 C295.00 72.90 295.50 73.11 296.00 73.32 C296.50 73.53 297.00 73.75 297.50 73.96 C298.00 74.17 298.50 74.39 299.00 74.60 C299.50 74.81 300.00 75.02 300.50 75.22 C301.00 75.43 301.50 75.66 302.00 75.85 C302.50 76.04 303.00 76.20 303.50 76.37 C304.00 76.54 304.50 76.71 305.00 76.89 C305.50 77.06 306.00 77.23 306.50 77.40 C307.00 77.57 307.50 77.74 308.00 77.91 C308.50 78.08 309.00 78.24 309.50 78.41 C310.00 78.58 310.50 78.75 311.00 78.91 C311.50 79.08 312.00 79.24 312.50 79.41 C313.00 79.57 313.50 79.74 314.00 79.90 C314.50 80.07 315.00 80.24 315.50 80.41 C316.00 80.58 316.50 80.76 317.00 80.93 C317.50 81.10 318.00 81.28 318.50 81.45 C319.00 81.62 319.50 81.79 320.00 81.97 C320.50 82.14 321.00 82.31 321.50 82.48 C322.00 82.65 322.50 82.82 323.00 82.99 C323.50 83.16 324.00 83.33 324.50 83.50 C325.00 83.67 325.50 83.84 326.00 84.01 C326.50 84.18 327.00 84.35 327.50 84.52 C328.00 84.69 328.50 84.85 329.00 85.02 C329.50 85.19 330.00 85.36 330.50 85.52 C331.00 85.69 331.50 85.86 332.00 86.02 C332.50 86.19 333.00 86.35 333.50 86.52 C334.00 86.68 334.50 86.85 335.00 87.01 C335.50 87.18 336.00 87.34 336.50 87.51 C337.00 87.67 337.50 87.83 338.00 88.00 C338.50 88.16 339.00 88.32 339.50 88.48 C340.00 88.64 340.50 88.81 341.00 88.97 C341.50 89.13 342.00 89.29 342.50 89.45 C343.00 89.61 343.50 89.77 344.00 89.93 C344.50 90.08 345.00 90.24 345.50 90.40 C346.00 90.56 346.50 90.72 347.00 90.87 C347.50 91.03 348.00 91.19 348.50 91.34 C349.00 91.50 349.50 91.65 350.00 91.81 C350.50 91.96 351.00 92.12 351.50 92.27 C352.00 92.42 352.50 92.58 353.00 92.73 C353.50 92.88 354.00 93.03 354.50 93.18 C355.00 93.33 355.50 93.48 356.00 93.63 C356.50 93.78 357.00 93.93 357.50 94.08 C358.00 94.23 358.50 94.38 359.00 94.52 C359.50 94.67 360.00 94.82 360.50 94.96 C361.00 95.11 361.50 95.26 362.00 95.40 C362.50 95.55 363.00 95.69 363.50 95.83 C364.00 95.98 364.50 96.12 365.00 96.26 C365.50 96.40 366.00 96.54 366.50 96.68 C367.00 96.82 367.50 96.96 368.00 97.10 C368.50 97.24 369.00 97.38 369.50 97.52 C370.00 97.65 370.50 97.79 371.00 97.93 C371.50 98.06 372.00 98.20 372.50 98.33 C373.00 98.47 373.50 98.60 374.00 98.73 C374.50 98.87 375.00 99.00 375.50 99.13 C376.00 99.26 376.50 99.39 377.00 99.52 C377.50 99.65 378.00 99.78 378.50 99.91 C379.00 100.03 379.50 100.16 380.00 100.29 C380.50 100.41 381.00 100.54 381.50 100.66 C382.00 100.79 382.50 100.91 383.00 101.03 C383.50 101.16 384.00 101.28 384.50 101.40 C385.00 101.52 385.50 101.64 386.00 101.76 C386.50 101.88 387.00 102.00 387.50 102.11 C388.00 102.23 388.50 102.35 389.00 102.46 C389.50 102.58 390.00 102.69 390.50 102.81 C391.00 102.92 391.50 103.03 392.00 103.14 C392.50 103.26 393.00 103.37 393.50 103.48 C394.00 103.59 394.50 103.70 395.00 103.80 C395.50 103.91 396.00 104.00 396.50 104.10 C397.00 104.20 397.50 104.29 398.00 104.39 C398.50 104.48 399.00 104.58 399.50 104.67 C400.00 104.76 400.50 104.86 401.00 104.95 C401.50 105.04 402.00 105.13 402.50 105.22 C403.00 105.31 403.50 105.39 404.00 105.48 C404.50 105.57 405.00 105.65 405.50 105.74 C406.00 105.82 406.50 105.91 407.00 105.99 C407.50 106.07 408.00 106.15 408.50 106.23 C409.00 106.31 409.50 106.39 410.00 106.47 C410.50 106.56 411.00 106.66 411.50 106.75 C412.00 106.84 412.50 106.93 413.00 107.02 C413.50 107.11 414.00 107.20 414.50 107.29 C415.00 107.37 415.50 107.46 416.00 107.54 C416.50 107.63 417.00 107.71 417.50 107.79 C418.00 107.88 418.50 107.96 419.00 108.04 C419.50 108.12 420.00 108.19 420.50 108.27 C421.00 108.35 421.50 108.42 422.00 108.49 C422.50 108.56 423.00 108.64 423.50 108.71 C424.00 108.78 424.50 108.85 425.00 108.91 C425.50 108.98 426.00 109.05 426.50 109.11 C427.00 109.18 427.62 109.26 428.00 109.30 C428.38 109.35 428.62 109.38 428.75 109.40" fill="none" stroke="#00ff00" stroke-width="0.85" stroke-linejoin="round"/>
<path d="M34.60 0.40 H454.60 V260.20 H34.60 Z M34.60 260.20 v-4.00 M34.60 0.40 v4.00 M59.34 260.20 v-2.40 M59.34 0.40 v2.40 M84.07 260.20 v-2.40 M84.07 0.40 v2.40 M108.81 260.20 v-2.40 M108.81 0.40 v2.40 M133.54 260.20 v-2.40 M133.54 0.40 v2.40 M158.28 260.20 v-4.00 M158.28 0.40 v4.00 M183.01 260.20 v-2.40 M183.01 0.40 v2.40 M207.74 260.20 v-2.40 M207.74 0.40 v2.40 M232.48 260.20 v-2.40 M232.48 0.40 v2.40 M257.22 260.20 v-2.40 M257.22 0.40 v2.40 M281.95 260.20 v-4.00 M281.95 0.40 v4.00 M306.69 260.20 v-2.40 M306.69 0.40 v2.40 M331.42 260.20 v-2.40 M331.42 0.40 v2.40 M356.16 260.20 v-2.40 M356.16 0.40 v2.40 M380.89 260.20 v-2.40 M380.89 0.40 v2.40 M405.62 260.20 v-4.00 M405.62 0.40 v4.00 M430.36 260.20 v-2.40 M430.36 0.40 v2.40 M34.60 255.10 h2.40 M454.60 255.10 h-2.40 M34.60 244.25 h2.40 M454.60 244.25 h-2.40 M34.60 233.40 h4.00 M454.60 233.40 h-4.00 M34.60 222.55 h2.40 M454.60 222.55 h-2.40 M34.60 211.70 h2.40 M454.60 211.70 h-2.40 M34.60 200.85 h2.40 M454.60 200.85 h-2.40 M34.60 190.00 h2.40 M454.60 190.00 h-2.40 M34.60 179.15 h4.00 M454.60 179.15 h-4.00 M34.60 168.30 h2.40 M454.60 168.30 h-2.40 M34.60 157.45 h2.40 M454.60 157.45 h-2.40 M34.60 146.60 h2.40 M454.60 146.60 h-2.40 M34.60 135.75 h2.40 M454.60 135.75 h-2.40 M34.60 124.90 h4.00 M454.60 124.90 h-4.00 M34.60 114.05 h2.40 M454.60 114.05 h-2.40 M34.60 103.20 h2.40 M454.60 103.20 h-2.40 M34.60 92.35 h2.40 M454.60 92.35 h-2.40 M34.60 81.50 h2.40 M454.60 81.50 h-2.40 M34.60 70.65 h4.00 M454.60 70.65 h-4.00 M34.60 59.80 h2.40 M454.60 59.80 h-2.40 M34.60 48.95 h2.40 M454.60 48.95 h-2.40 M34.60 38.10 h2.40 M454.60 38.10 h-2.40 M34.60 27.25 h2.40 M454.60 27.25 h-2.40 M34.60 16.40 h4.00 M454.60 16.40 h-4.00 M34.60 5.55 h2.40 M454.60 5.55 h-2.40" fill="none" stroke="#6e6e6e" stroke-width="0.75"/>
<g font-family="'Liberation Serif', serif" font-size="8.6" fill="#000">
<text x="31.80" y="236.30" text-anchor="end">0.18</text>
<text x="31.80" y="182.05" text-anchor="end">0.19</text>
<text x="31.80" y="127.80" text-anchor="end">0.20</text>
<text x="31.80" y="73.55" text-anchor="end">0.21</text>
<text x="31.80" y="19.30" text-anchor="end">0.22</text>
<text x="34.60" y="270.50" text-anchor="middle">0</text>
<text x="158.28" y="270.50" text-anchor="middle">5</text>
<text x="281.95" y="270.50" text-anchor="middle">10</text>
<text x="405.62" y="270.50" text-anchor="middle">15</text>
<text x="245.00" y="286.00" text-anchor="middle" font-style="italic">μ<tspan font-style="normal">Γ</tspan></text>
<text transform="translate(8.9 141.0) rotate(-90)"><tspan font-style="italic">ℓ</tspan><tspan font-size="6" dy="1.6" font-style="italic">c</tspan><tspan dy="-1.6" dx="1.5">Γ</tspan><tspan font-size="6.5" dy="-3.4" dx="-0.5">−</tspan><tspan font-size="6.5" dx="0.8">1</tspan></text>
</g>
<g font-family="'Liberation Serif', serif" font-size="8.6" fill="#800080">
<text x="71.40" y="39.80" text-anchor="middle">confined−</text>
<text x="71.60" y="51.60" text-anchor="middle">Insulator</text>
<text x="71.20" y="175.80" text-anchor="middle">deconfined−</text>
<text x="71.60" y="187.30" text-anchor="middle">Insulator</text>
<text x="306.50" y="30.00" text-anchor="middle">confined−Superconductor</text>
<text x="306.30" y="182.00" text-anchor="middle">deconfined−Superconductor</text>
</g>
<g font-family="'Liberation Serif', serif" font-size="8.6">
<text x="394.00" y="30.25" text-anchor="start" fill="#000000">|b|=0.0</text>
<text x="394.00" y="46.35" text-anchor="start" fill="#0000ff">|b|=0.2</text>
<text x="394.00" y="62.45" text-anchor="start" fill="#ff0000">|b|=0.3</text>
<text x="394.00" y="78.55" text-anchor="start" fill="#00ff00">|b|=0.4</text>
</g>
</svg>
</body></html>
